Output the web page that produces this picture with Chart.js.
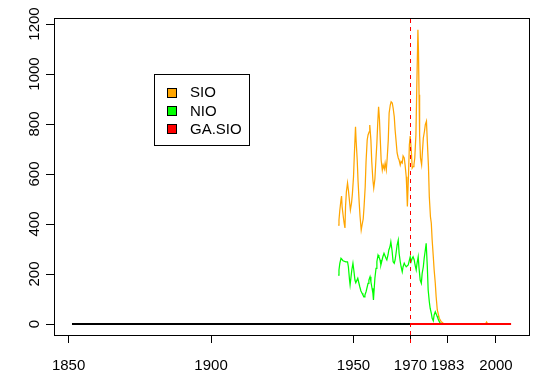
<!DOCTYPE html>
<html>
<head>
<meta charset="utf-8">
<script src="https://cdn.jsdelivr.net/npm/chart.js@4/dist/chart.umd.min.js"></script>
<style>
html,body{margin:0;padding:0;background:#fff;}
#wrap{width:547px;height:389px;}
</style>
</head>
<body>
<div id="wrap"><canvas id="c" width="547" height="389"></canvas></div>
<script>
// ---- data ----
const sioYears = [1944.6,1944.9,1945.2,1945.6,1945.8,1946.0,1946.4,1946.7,1947.0,1947.2,1947.5,1947.9,1948.2,1948.6,1948.9,1949.3,1949.6,1950.0,1950.3,1950.7,1950.9,1951.3,1951.6,1952.0,1952.3,1952.7,1953.0,1953.4,1953.7,1954.1,1954.4,1954.8,1955.1,1955.5,1955.7,1956.1,1956.4,1956.8,1957.1,1957.5,1957.8,1958.2,1958.5,1958.8,1959.1,1959.4,1959.7,1960.1,1960.4,1960.8,1961.1,1961.5,1961.8,1962.2,1962.5,1962.9,1963.2,1963.6,1963.9,1964.3,1964.6,1965.0,1965.3,1965.7,1966.0,1966.4,1966.7,1967.1,1967.4,1967.8,1968.1,1968.5,1968.7,1968.9,1969.3,1969.6,1969.9,1970.3,1970.6,1970.9,1971.2,1971.5,1971.9,1972.2,1972.6,1972.8,1973.0,1973.2,1973.5,1973.9,1974.2,1974.5,1974.9,1975.2,1975.6,1975.9,1976.3,1976.6,1977.0,1977.3,1977.6,1978.0,1978.3,1978.7,1979.0,1979.4,1980.1,1980.8,1981.5,1982.2,1996.3,1996.7,1997.1];
const sioValues = [396,416,456,496,512,469,430,404,384,470,529,564,536,490,456,484,520,589,680,789,736,656,570,484,430,376,396,420,469,549,650,736,756,769,796,736,650,576,544,580,644,724,804,869,820,736,656,616,636,620,644,616,660,736,844,876,889,884,864,829,776,724,684,664,656,636,650,644,672,664,636,589,536,470,597,717,752,690,624,630,637,664,757,944,1177,1091,917,757,664,637,692,744,771,797,811,731,630,509,429,403,336,269,216,163,109,56,23,9,3,0,0,8,0];

const nioYears = [1944.6,1944.9,1945.2,1945.6,1945.9,1946.3,1947.3,1947.9,1948.2,1948.6,1948.8,1949.4,1949.8,1950.1,1950.5,1950.8,1951.5,1951.9,1952.2,1952.6,1953.0,1953.3,1953.7,1954.0,1954.4,1955.1,1955.4,1955.8,1956.1,1956.5,1956.8,1957.0,1957.5,1957.9,1958.2,1958.6,1958.9,1959.3,1959.6,1960.3,1960.7,1961.4,1961.7,1962.1,1962.4,1962.8,1963.1,1963.5,1963.9,1964.3,1964.6,1965.0,1965.3,1965.7,1966.0,1966.4,1966.7,1967.1,1967.4,1967.8,1968.1,1968.5,1969.2,1969.9,1970.2,1970.6,1970.9,1971.3,1971.6,1972.0,1972.3,1972.7,1973.0,1973.4,1973.8,1974.1,1974.5,1974.8,1975.2,1975.5,1975.9,1976.2,1976.6,1976.9,1977.3,1977.6,1978.0,1978.3,1978.7,1979.3,1979.6,1980.0,1980.3,1981.0];
const nioValues = [196,216,243,263,259,253,249,249,229,176,156,216,243,216,176,165,183,163,149,132,123,116,109,116,129,163,176,189,169,143,123,96,183,223,249,276,269,256,236,269,283,263,256,276,296,309,329,296,249,243,256,289,316,336,283,249,229,209,229,243,236,229,236,269,249,263,269,256,236,216,243,269,223,176,163,203,229,263,296,323,229,136,89,63,43,23,13,36,49,32,23,13,5,0];

const gaYears = [1970, 2005.3];
const gaValues = [0, 0];

const baseYears = [1851.2, 1980.4];
const baseValues = [0, 0];

const markYear = 1970;
const markRange = [-76, 1224];

const xTicks = [1850, 1900, 1950, 1970, 1983, 2000];
const yTicks = [0, 200, 400, 600, 800, 1000, 1200];

const legendNames = ['SIO', 'NIO', 'GA.SIO'];
const legendAnchor = [1880, 1000];

// ---- helpers ----
const pts = (xs, ys) => xs.map((x, i) => ({x: x, y: ys[i]}));
const FONT = '"Liberation Sans", Arial, Helvetica, sans-serif';

const overlay = {
  id: 'overlay',
  afterDraw(chart) {
    const ctx = chart.ctx, a = chart.chartArea;
    const xs = chart.scales.x, ys = chart.scales.y;
    ctx.save();
    // plot frame
    ctx.strokeStyle = '#000';
    ctx.lineWidth = 1;
    ctx.strokeRect(Math.round(a.left) + 0.5, Math.round(a.top) + 0.5,
                   Math.round(a.right - a.left), Math.round(a.bottom - a.top));
    // rotated y tick labels
    ctx.fillStyle = '#000';
    ctx.font = '15px ' + FONT;
    yTicks.forEach(v => {
      const py = ys.getPixelForValue(v);
      ctx.save();
      ctx.translate(a.left - 12, py);
      ctx.rotate(-Math.PI / 2);
      ctx.textAlign = 'center';
      ctx.textBaseline = 'bottom';
      ctx.fillText(String(v), 0, 0);
      ctx.restore();
    });
    // legend
    const lx = Math.round(xs.getPixelForValue(legendAnchor[0]));
    const ly = Math.round(ys.getPixelForValue(legendAnchor[1]));
    const w = 95, h = 71, rowH = 18.3;
    ctx.fillStyle = '#fff';
    ctx.fillRect(lx, ly, w, h);
    ctx.strokeStyle = '#000';
    ctx.strokeRect(lx + 0.5, ly + 0.5, w, h);
    const cols = [chart.data.datasets[0].borderColor, chart.data.datasets[1].borderColor, chart.data.datasets[2].borderColor];
    legendNames.forEach((name, i) => {
      const cy = ly + rowH * (i + 1);
      ctx.fillStyle = cols[i];
      ctx.fillRect(lx + 13, Math.round(cy - 4.5), 9, 9);
      ctx.strokeStyle = '#000';
      ctx.strokeRect(lx + 13.5, Math.round(cy - 4.5) + 0.5, 9, 9);
      ctx.fillStyle = '#000';
      ctx.textAlign = 'left';
      ctx.textBaseline = 'middle';
      ctx.fillText(name, lx + 36, cy + 1);
    });
    ctx.restore();
  }
};

new Chart(document.getElementById('c'), {
  type: 'line',
  data: {
    datasets: [
      {label: legendNames[0], data: pts(sioYears, sioValues), borderColor: '#FFA500', backgroundColor: '#FFA500', borderWidth: 1.25, pointRadius: 0, tension: 0, fill: false, order: 3},
      {label: legendNames[1], data: pts(nioYears, nioValues), borderColor: '#00FF00', backgroundColor: '#00FF00', borderWidth: 1.25, pointRadius: 0, tension: 0, fill: false, order: 2},
      {label: legendNames[2], data: pts(gaYears, gaValues), borderColor: '#FF0000', backgroundColor: '#FF0000', borderWidth: 2, pointRadius: 0, tension: 0, fill: false, order: 1},
      {label: 'base', data: pts(baseYears, baseValues), borderColor: '#000000', borderWidth: 2, pointRadius: 0, tension: 0, fill: false, order: 4},
      {label: 'mark', data: [{x: markYear, y: markRange[0]}, {x: markYear, y: markRange[1]}], borderColor: '#FF0000', borderWidth: 1, borderDash: [4, 4], pointRadius: 0, tension: 0, fill: false, clip: false, order: 0}
    ]
  },
  options: {
    responsive: false,
    animation: false,
    devicePixelRatio: 1,
    layout: {padding: {top: 18, right: 18, left: 0, bottom: 0}},
    plugins: {legend: {display: false}, tooltip: {enabled: false}},
    scales: {
      x: {
        type: 'linear', min: 1844.886, max: 2011.586,
        afterBuildTicks: s => { s.ticks = xTicks.map(v => ({value: v})); },
        afterFit: s => { s.height = 54; },
        ticks: {autoSkip: false, maxRotation: 0, minRotation: 0, padding: 14, color: '#000',
                font: {family: FONT, size: 15}, callback: v => String(v)},
        grid: {drawOnChartArea: false, drawTicks: true, tickLength: 8, color: '#000', lineWidth: 1},
        border: {display: true, color: '#000', width: 1}
      },
      y: {
        type: 'linear', min: -44, max: 1224,
        afterBuildTicks: s => { s.ticks = yTicks.map(v => ({value: v})); },
        afterFit: s => { s.width = 54; },
        ticks: {display: false},
        grid: {drawOnChartArea: false, drawTicks: true, tickLength: 8, color: '#000', lineWidth: 1},
        border: {display: true, color: '#000', width: 1}
      }
    }
  },
  plugins: [overlay]
});
</script>
</body>
</html>
